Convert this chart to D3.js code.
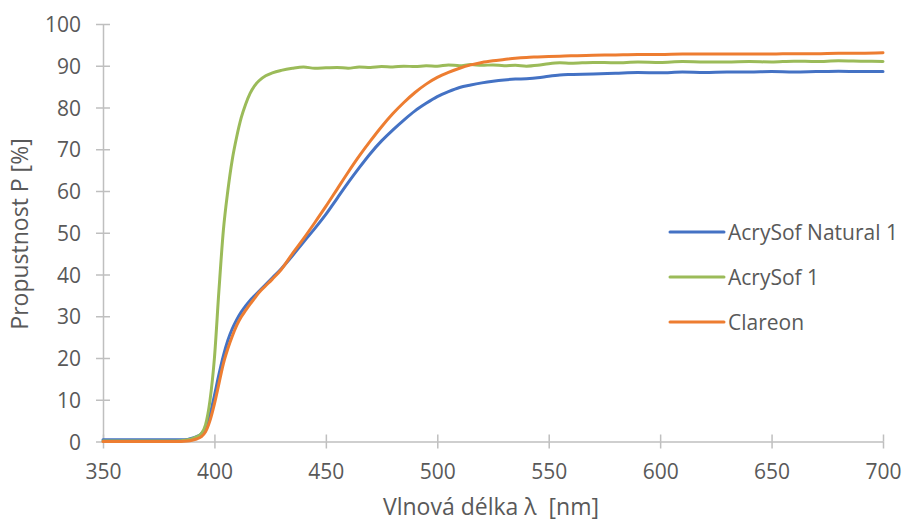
<!DOCTYPE html>
<html>
<head>
<meta charset="utf-8">
<script src="https://cdn.jsdelivr.net/npm/d3@7"></script>
<style>
  body { margin: 0; background: #fff; }
  svg { display: block; font-family: "Open Sans", "Noto Sans", sans-serif; }
</style>
</head>
<body>
<div id="container"></div>
<script>
/* CONSTANTS AND GLOBALS */
const width = 902,
      height = 523,
      margin = { top: 24, right: 19, bottom: 82, left: 103 };

/* DATA */
const wavelengths = [350, 360, 370, 380, 385, 388, 390, 392, 394, 396, 398,
  400, 402, 404, 406, 408, 410, 412, 414, 416, 418, 420, 423, 426, 430,
  435, 440, 445, 450, 455, 460, 465, 470, 475, 480, 485, 490, 495, 500,
  505, 510, 515, 520, 525, 530, 535, 540, 545, 550, 555,
  560, 570, 580, 590, 600, 610, 620, 630, 640, 650, 660, 670, 680, 690, 700];

const acrysofNatural = [0.4, 0.4, 0.4, 0.4, 0.4, 0.5, 0.8, 1.2, 1.8, 3.2, 6.4,
  11.0, 16.0, 20.5, 24.2, 27.0, 29.2, 31.0, 32.5, 33.8, 34.9, 36.0, 37.6, 39.2, 41.4,
  44.5, 47.8, 51.0, 54.4, 58.2, 62.0, 65.6, 69.0, 72.0, 74.6, 77.0, 79.2, 81.0, 82.6,
  83.8, 84.8, 85.4, 85.9, 86.3, 86.6, 86.8, 86.9, 87.1, 87.5, 87.8,
  87.9, 88.0, 88.2, 88.4, 88.3, 88.5, 88.4, 88.5, 88.5, 88.6, 88.5, 88.6, 88.7, 88.6, 88.6];

const acrysof = [0.1, 0.1, 0.1, 0.1, 0.2, 0.4, 0.7, 1.1, 1.8, 4.0, 9.8,
  20.0, 36.0, 50.5, 60.0, 67.5, 73.0, 77.5, 80.8, 83.4, 85.2, 86.4, 87.6, 88.3, 88.9,
  89.4, 89.7, 89.4, 89.5, 89.6, 89.4, 89.7, 89.6, 89.8, 89.7, 89.9, 89.8, 90.0, 89.9,
  90.2, 90.0, 90.3, 90.1, 90.2, 90.0, 90.1, 89.9, 90.1, 90.5, 90.7,
  90.6, 90.8, 90.7, 90.9, 90.8, 91.0, 90.9, 90.9, 91.0, 90.9, 91.1, 91.0, 91.2, 91.1, 91.0];

const clareon = [0, 0, 0, 0, 0, 0.1, 0.3, 0.6, 1.1, 2.3, 5.0,
  9.0, 13.8, 18.6, 22.2, 25.2, 27.8, 29.8, 31.4, 32.9, 34.3, 35.7, 37.3, 38.9, 41.2,
  45.0, 48.6, 52.4, 56.3, 60.4, 64.5, 68.4, 72.0, 75.4, 78.5, 81.2, 83.6, 85.6, 87.2,
  88.4, 89.4, 90.2, 90.8, 91.2, 91.5, 91.8, 92.0, 92.1, 92.2, 92.3,
  92.4, 92.5, 92.6, 92.7, 92.7, 92.8, 92.8, 92.8, 92.8, 92.8, 92.9, 92.9, 93.0, 93.0, 93.1];

const seriesNames = ["AcrySof Natural 1", "AcrySof 1", "Clareon"];
const seriesColors = ["#4472C4", "#9BBB59", "#ED7D31"];
const seriesValues = [acrysofNatural, acrysof, clareon];

const xTicks = [350, 400, 450, 500, 550, 600, 650, 700];
const yTicks = [0, 10, 20, 30, 40, 50, 60, 70, 80, 90, 100];

const series = seriesNames.map((name, i) => ({
  name,
  color: seriesColors[i],
  values: wavelengths.map((w, j) => ({ x: w, y: seriesValues[i][j] }))
}));

/* SCALES */
const xScale = d3.scaleLinear()
  .domain([350, 700])
  .range([margin.left, width - margin.right]);

const yScale = d3.scaleLinear()
  .domain([0, 100])
  .range([height - margin.bottom + 0.5, margin.top]);

const svg = d3.select("#container")
  .append("svg")
  .attr("width", width)
  .attr("height", height);

const axisColor = "#BFBFBF",
      textColor = "#595959";

/* AXES */
const yAxis = d3.axisLeft(yScale)
  .tickValues(yTicks)
  .tickSizeInner(7)
  .tickSizeOuter(0)
  .tickPadding(15);

const gy = svg.append("g")
  .attr("transform", `translate(${margin.left}, 0)`)
  .call(yAxis);

gy.selectAll(".tick line").attr("x2", -7).clone().attr("x2", 7);

const xAxis = d3.axisBottom(xScale)
  .tickValues(xTicks)
  .tickSizeInner(7)
  .tickSizeOuter(0)
  .tickPadding(16);

const gx = svg.append("g")
  .attr("transform", `translate(0, ${yScale(0)})`)
  .call(xAxis);

gx.selectAll(".tick line").attr("y2", 7).clone().attr("y2", -7);

[gx, gy].forEach(g => {
  g.select(".domain").attr("stroke", axisColor).attr("stroke-width", 1.5);
  g.selectAll(".tick line").attr("stroke", axisColor).attr("stroke-width", 1.5);
  g.selectAll(".tick text")
    .attr("fill", textColor)
    .style("font-size", "21px")
    .style("font-family", '"Open Sans", "Noto Sans", sans-serif');
});
gy.selectAll(".tick text").attr("dy", "0.36em");

/* LINES */
const line = d3.line()
  .x(d => xScale(d.x))
  .y(d => yScale(d.y))
  .curve(d3.curveMonotoneX);

svg.append("g")
  .selectAll("path")
  .data(series)
  .join("path")
    .attr("fill", "none")
    .attr("stroke", d => d.color)
    .attr("stroke-width", 3)
    .attr("stroke-linejoin", "round")
    .attr("stroke-linecap", "round")
    .attr("d", d => line(d.values));

/* LEGEND */
const legend = svg.append("g")
  .selectAll("g")
  .data(series)
  .join("g")
    .attr("transform", (d, i) => `translate(670, ${232 + i * 45})`);

legend.append("line")
  .attr("x1", 0).attr("x2", 54)
  .attr("stroke", d => d.color)
  .attr("stroke-width", 3)
  .attr("stroke-linecap", "round");

legend.append("text")
  .attr("x", 58)
  .attr("dy", "0.36em")
  .attr("fill", textColor)
  .style("font-size", "21px")
  .text(d => d.name);

/* AXIS TITLES */
svg.append("text")
  .attr("x", 491)
  .attr("y", 515)
  .attr("text-anchor", "middle")
  .attr("fill", textColor)
  .style("font-size", "23px")
  .style("white-space", "pre")
  .text("Vlnová délka λ  [nm]");

svg.append("text")
  .attr("transform", "translate(28, 234) rotate(-90)")
  .attr("text-anchor", "middle")
  .attr("fill", textColor)
  .style("font-size", "23px")
  .text("Propustnost P [%]");
</script>
</body>
</html>
